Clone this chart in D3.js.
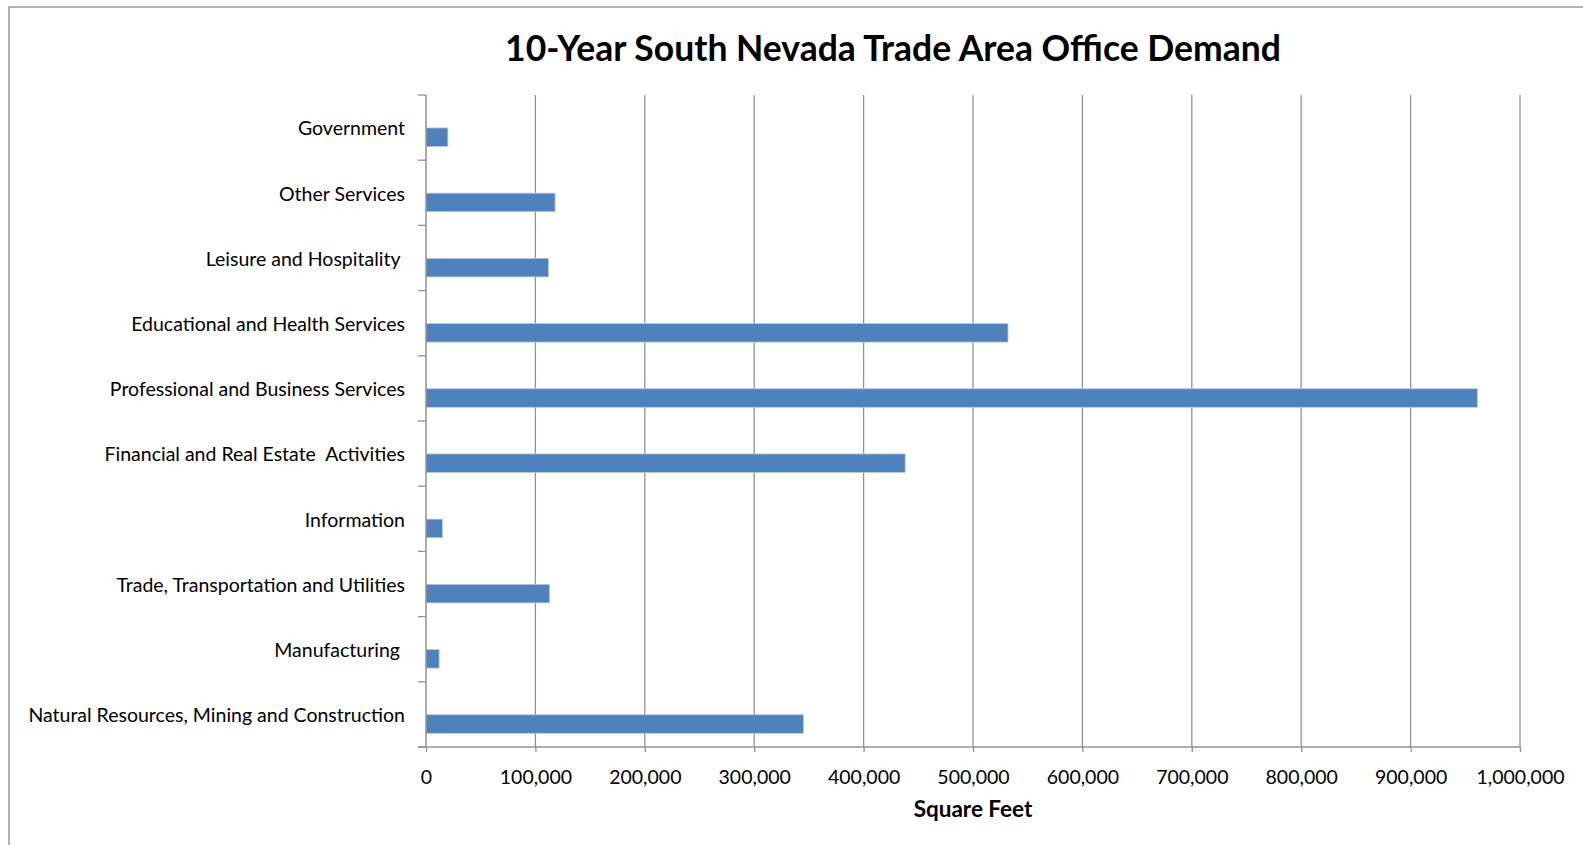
<!DOCTYPE html>
<html>
<head>
<meta charset="utf-8">
<script src="https://cdn.jsdelivr.net/npm/d3@7"></script>
<style>
  html, body { margin: 0; padding: 0; background: #fff; }
  svg text { font-family: Lato, "Open Sans", sans-serif; fill: #000; }
</style>
</head>
<body>
<div id="chart"></div>
<script>
// categories, top to bottom as they appear in the chart
var categories = [
  "Government",
  "Other Services",
  "Leisure and Hospitality ",
  "Educational and Health Services",
  "Professional and Business Services",
  "Financial and Real Estate  Activities",
  "Information",
  "Trade, Transportation and Utilities",
  "Manufacturing ",
  "Natural Resources, Mining and Construction"
];
// square feet of office demand
var demand = [20000, 118000, 112000, 532000, 961000, 438000, 15000, 113000, 12000, 345000];
var xTicks = [0, 100000, 200000, 300000, 400000, 500000, 600000, 700000, 800000, 900000, 1000000];

var W = 1583, H = 845;
var margin = {top: 95, right: 63, bottom: 98, left: 426};
var width = W - margin.left - margin.right,
    height = H - margin.top - margin.bottom;

var data = categories.map(function(c, i) { return {name: c, value: demand[i]}; });

var svg = d3.select("#chart").append("svg")
    .attr("width", W)
    .attr("height", H);

// chart frame (cut off at right and bottom)
svg.append("rect")
    .attr("x", 9).attr("y", 7)
    .attr("width", 1700).attr("height", 1000)
    .attr("fill", "none")
    .attr("stroke", "#9a9a9a")
    .attr("stroke-width", 1.5);

svg.append("text")
    .attr("x", 893)
    .attr("y", 61)
    .attr("text-anchor", "middle")
    .style("font-size", "35.5px")
    .style("font-weight", "bold")
    .text("10-Year South Nevada Trade Area Office Demand");

var g = svg.append("g")
    .attr("transform", "translate(" + margin.left + "," + margin.top + ")");

var x = d3.scaleLinear().domain([0, 1000000]).range([0, width]);
var y = d3.scaleBand().domain(categories).range([0, height]);

// vertical gridlines
g.selectAll(".grid")
    .data(xTicks.slice(1))
    .enter().append("line")
    .attr("class", "grid")
    .attr("x1", function(d) { return x(d); })
    .attr("x2", function(d) { return x(d); })
    .attr("y1", 0)
    .attr("y2", height)
    .attr("stroke", "#929292")
    .attr("stroke-width", 1.3);

// bars
g.selectAll(".bar")
    .data(data)
    .enter().append("rect")
    .attr("class", "bar")
    .attr("x", x(0))
    .attr("y", function(d) { return y(d.name) + y.bandwidth() * 0.505; })
    .attr("width", function(d) { return x(d.value) - x(0); })
    .attr("height", y.bandwidth() * 0.285)
    .attr("fill", "#4f81bd")
    .attr("stroke", "#b9cde5")
    .attr("stroke-width", 0.8);

// x axis
var xAxis = g.append("g")
    .attr("transform", "translate(0," + height + ")")
    .call(d3.axisBottom(x).tickValues(xTicks).tickSize(5).tickSizeOuter(0)
      .tickFormat(d3.format(",")));
xAxis.select(".domain").remove();
xAxis.append("line")
    .attr("x1", -8).attr("x2", width)
    .attr("stroke", "#929292").attr("stroke-width", 1.5);
xAxis.selectAll(".tick line").attr("stroke", "#929292").attr("stroke-width", 1.3);
xAxis.selectAll(".tick text")
    .attr("y", 23)
    .attr("dy", "0.71em")
    .style("font-size", "19.5px")
    .style("font-family", "Lato, sans-serif");

// y axis: ticks sit on category boundaries
var yAxis = g.append("g");
yAxis.append("line")
    .attr("x1", 0).attr("x2", 0).attr("y1", 0).attr("y2", height)
    .attr("stroke", "#929292").attr("stroke-width", 1.5);
yAxis.selectAll(".ytick")
    .data(categories.concat(["end"]))
    .enter().append("line")
    .attr("class", "ytick")
    .attr("x1", -8).attr("x2", 0)
    .attr("y1", function(d, i) { return i < categories.length ? y(d) : height; })
    .attr("y2", function(d, i) { return i < categories.length ? y(d) : height; })
    .attr("stroke", "#929292").attr("stroke-width", 1.3);
yAxis.selectAll(".ylabel")
    .data(categories)
    .enter().append("text")
    .attr("class", "ylabel")
    .attr("x", -21)
    .attr("y", function(d) { return y(d) + y.bandwidth() / 2; })
    .attr("dy", "0.4em")
    .attr("text-anchor", "end")
    .style("font-size", "19.5px")
    .style("white-space", "pre")
    .text(function(d) { return d; });

svg.append("text")
    .attr("x", margin.left + width / 2)
    .attr("y", 817)
    .attr("text-anchor", "middle")
    .style("font-size", "22.5px")
    .style("font-weight", "bold")
    .text("Square Feet");
</script>
</body>
</html>
